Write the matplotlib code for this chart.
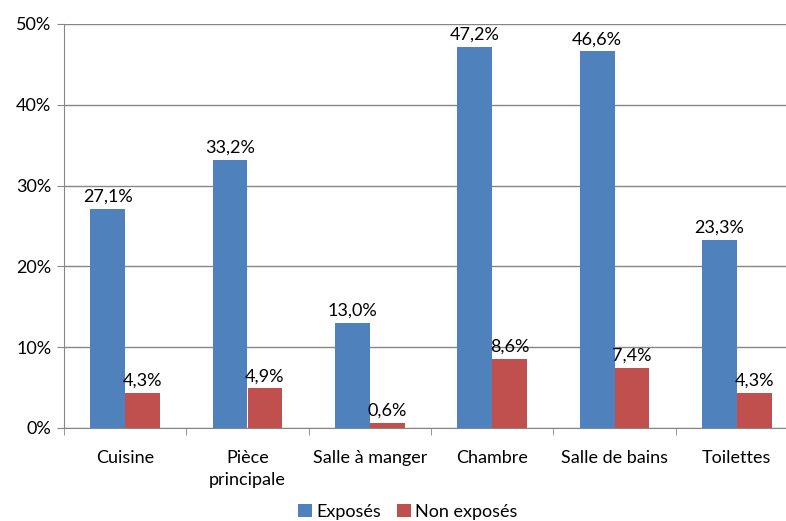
import numpy as np
import matplotlib.pyplot as plt

categories = ["Cuisine", "Pièce\nprincipale", "Salle à manger", "Chambre", "Salle de bains", "Toilettes"]
exposes = [27.1, 33.2, 13.0, 47.2, 46.6, 23.3]
non_exposes = [4.3, 4.9, 0.6, 8.6, 7.4, 4.3]
series_names = ["Exposés", "Non exposés"]

plt.rcParams["font.family"] = ["Lato", "DejaVu Sans"]

W, H = 786, 521
fig = plt.figure(figsize=(W / 100, H / 100), dpi=100)
# plot area runs a little past the right edge, as in the original
ax = fig.add_axes([64 / W, 1 - 428 / H, 734 / W, (428 - 24) / H])

x = np.arange(len(categories))
bw = 0.285
blue, red = "#4F81BD", "#C0504D"
fs = 13
b1 = ax.bar(x - bw / 2, exposes, bw, color=blue, label=series_names[0], zorder=3)
b2 = ax.bar(x + bw / 2, non_exposes, bw, color=red, label=series_names[1], zorder=3)

def fmt(v):
    return f"{v:.1f}%".replace(".", ",")

for bars, vals in ((b1, exposes), (b2, non_exposes)):
    for r, v in zip(bars, vals):
        ax.annotate(fmt(v), (r.get_x() + r.get_width() / 2, v), xytext=(0, 3),
                    textcoords="offset points", ha="center", va="bottom", fontsize=fs)

ax.set_xlim(-0.5, len(categories) - 0.5)
ax.set_ylim(0, 50)
ax.set_yticks(range(0, 51, 10))
ax.set_yticklabels([f"{t}%" for t in range(0, 51, 10)], fontsize=fs)
ax.yaxis.grid(True, color="#868686", linewidth=1, zorder=0)

ax.set_xticks(x)
ax.set_xticklabels(categories, fontsize=fs, linespacing=1.45)
ax.tick_params(axis="x", length=0, pad=16)
ax.set_xticks(np.arange(-0.5, len(categories)), minor=True)
ax.tick_params(axis="x", which="minor", length=5, color="#868686")
ax.tick_params(axis="y", length=5, color="#868686", pad=4)

for s in ["top", "right"]:
    ax.spines[s].set_visible(False)
for s in ["left", "bottom"]:
    ax.spines[s].set_color("#868686")

fig.legend(loc="center", bbox_to_anchor=(0.519, 1 - 512 / H), ncol=2, frameon=False,
           fontsize=fs, handlelength=0.75, handleheight=0.75, handletextpad=0.25,
           columnspacing=0.9, borderpad=0)

fig.savefig("out.png", dpi=100)
